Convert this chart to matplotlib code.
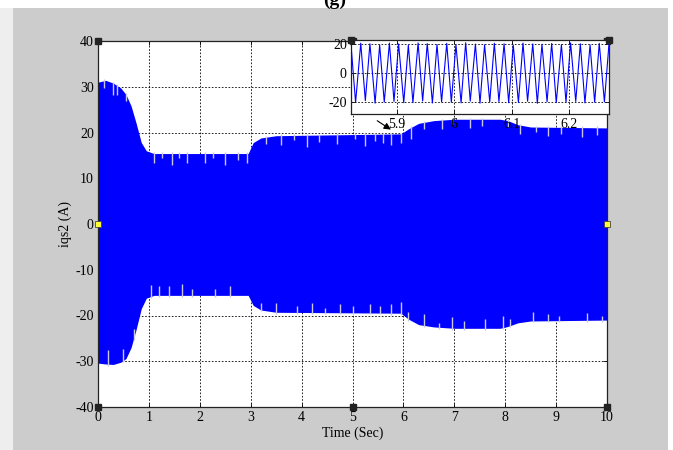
import matplotlib
matplotlib.use('Agg')
import matplotlib.pyplot as plt
import numpy as np
from matplotlib.patches import Rectangle

plt.rcParams['font.family'] = ['Liberation Serif', 'DejaVu Serif']
plt.rcParams['font.size'] = 10
plt.rcParams['axes.unicode_minus'] = False

# ---------------- data ----------------
# envelope of the fast oscillating current
t_env = [0, 0.15, 0.3, 0.45, 0.55, 0.65, 0.75, 0.85, 0.95, 1.1, 2.95, 3.05, 3.2, 3.5,
         5.95, 6.1, 6.3, 6.6, 7.0, 7.9, 8.05, 8.25, 8.5, 10]
env_upper = [31.0, 31.4, 30.8, 29.7, 28.3, 25.8, 22.0, 17.8, 16.0, 15.4, 15.4, 17.8, 18.8, 19.3,
             19.7, 20.8, 22.0, 22.6, 22.9, 22.9, 22.6, 21.7, 21.2, 21.0]
env_lower = [-30.4, -30.6, -30.7, -30.2, -29.4, -27.0, -23.0, -18.5, -16.2, -15.6, -15.6, -17.8, -18.8, -19.3,
             -19.5, -20.8, -22.0, -22.5, -22.8, -22.8, -22.4, -21.6, -21.2, -21.0]

# light aliasing spikes at the envelope edges
spike_up_t = [0.12, 0.3, 0.38, 0.55, 1.1, 1.25, 1.45, 1.6, 1.75, 2.1, 2.25, 2.5, 2.75, 2.92,
              3.3, 3.6, 3.85, 4.1, 4.35, 4.7, 5.05, 5.25, 5.45, 5.6, 5.75, 5.95, 6.15, 6.4,
              6.75, 6.95, 7.3, 7.55, 8.05, 8.3, 8.6, 8.85, 9.1, 9.5, 9.8]
spike_up_len = [1.5, 2.5, 2.0, 1.5, 2.0, 1.0, 2.5, 1.0, 2.0, 2.0, 1.0, 2.5, 1.5, 2.0,
                1.5, 2.0, 1.0, 2.5, 1.5, 2.0, 1.0, 2.5, 1.5, 2.0, 2.5, 2.0, 2.5, 1.5,
                2.0, 1.0, 2.0, 1.5, 1.5, 2.0, 1.0, 2.0, 1.5, 2.0, 1.5]
spike_lo_t = [0.2, 0.5, 0.7, 1.05, 1.2, 1.4, 1.65, 1.85, 2.3, 2.6, 3.2, 3.5, 3.9, 4.2, 4.45,
              4.75, 5.0, 5.35, 5.55, 5.75, 5.95, 6.1, 6.4, 6.7, 6.95, 7.2, 7.6, 7.95, 8.1,
              8.55, 8.85, 9.05, 9.6, 9.9]
spike_lo_len = [3.0, 2.5, 2.0, 2.5, 2.0, 2.0, 2.5, 1.5, 1.5, 2.0, 1.5, 2.0, 1.5, 2.0, 1.0,
                2.0, 1.5, 2.0, 1.5, 2.0, 2.5, 1.5, 2.5, 1.0, 2.5, 1.5, 2.0, 2.5, 1.5,
                2.0, 1.5, 1.0, 1.5, 1.0]

x_ticks = list(range(0, 11))
y_ticks = list(range(-40, 41, 10))

# zoomed inset (extreme points of the 60 Hz waveform)
inset_t = [5.820, 5.828, 5.837, 5.845, 5.853, 5.862, 5.870, 5.878, 5.887, 5.895,
           5.903, 5.912, 5.920, 5.928, 5.937, 5.945, 5.953, 5.962, 5.970, 5.978,
           5.987, 5.995, 6.003, 6.012, 6.020, 6.028, 6.037, 6.045, 6.053, 6.062,
           6.070, 6.078, 6.087, 6.095, 6.103, 6.112, 6.120, 6.128, 6.137, 6.145,
           6.153, 6.162, 6.170, 6.178, 6.187, 6.195, 6.203, 6.212, 6.220, 6.228,
           6.237, 6.245, 6.253, 6.262, 6.270]
inset_v = [19.5, -20.3, 20.6, -19.1, 20.2, -20.8, 19.4, -20.1, 20.7, -19.6,
           20.1, -20.5, 19.2, -20.4, 20.8, -19.3, 20.3, -20.7, 19.7, -19.9,
           20.5, -20.2, 19.6, -20.6, 20.9, -19.4, 20.0, -20.8, 19.5, -20.0,
           20.6, -19.7, 20.2, -20.5, 19.3, -20.3, 20.7, -19.5, 20.1, -20.9,
           19.8, -19.8, 20.4, -20.4, 19.6, -20.1, 20.8, -19.6, 20.2, -20.6,
           19.4, -20.2, 20.5, -19.9, 20.3]
inset_xticks = [5.9, 6.0, 6.1, 6.2]
inset_xticklabels = ['5.9', '6', '6.1', '6.2']
inset_yticks = [-20, 0, 20]

# ---------------- figure ----------------
W, H = 673, 450
fig = plt.figure(figsize=(W / 100, H / 100), dpi=100)
fig.patch.set_facecolor('white')
fig.patches.append(Rectangle((0, 0), 13 / W, 442 / H, transform=fig.transFigure,
                             facecolor='#eeeeee', edgecolor='none', zorder=-10))
fig.patches.append(Rectangle((13 / W, 0), 655 / W, 442 / H, transform=fig.transFigure,
                             facecolor='#cccccc', edgecolor='none', zorder=-10))

ax = fig.add_axes([98 / W, 43 / H, 509 / W, 366 / H])
ax.set_facecolor('white')
ax.fill_between(t_env, env_upper, env_lower, color='#0000ff', lw=0, zorder=2)

up_base = np.interp(spike_up_t, t_env, env_upper)
ax.vlines(spike_up_t, up_base - np.array(spike_up_len), up_base + 0.3,
          color='#c8c8e6', lw=1.0, zorder=3)
lo_base = np.interp(spike_lo_t, t_env, env_lower)
ax.vlines(spike_lo_t, lo_base - 0.3, lo_base + np.array(spike_lo_len),
          color='#c8c8e6', lw=1.0, zorder=3)

ax.set_xlim(0, 10)
ax.set_ylim(-40, 40)
ax.set_xticks(x_ticks)
ax.set_yticks(y_ticks)
ax.grid(True, linestyle=(0, (2, 2)), color='black', lw=0.6)
ax.set_axisbelow(True)
ax.tick_params(direction='in', length=3, width=0.6, pad=3, top=True, right=True, labelsize=10)
for s in ax.spines.values():
    s.set_linewidth(0.9)
    s.set_color('#222222')

ax.set_ylabel('iqs2 (A)', va='center')
ax.yaxis.set_label_coords(-33 / 509, 0.5)
ax.set_xlabel('Time (Sec)', va='center')
ax.xaxis.set_label_coords(0.5, -26 / 366)

ax.annotate('', xy=(5.80, 20.3), xytext=(5.44, 22.9),
            arrowprops=dict(arrowstyle='-|>', color='black', lw=0.8, mutation_scale=10),
            zorder=6)

# selection handles
ax.plot([0, 10, 0, 10, 5, 5], [40, 40, -40, -40, -40, 40], 's', ms=4,
        color='#222222', clip_on=False, zorder=10)
ax.plot([0, 10], [0, 0], 's', ms=4, mfc='#ffff33', mec='#444444', mew=0.6,
        clip_on=False, zorder=10)

# inset
axin = fig.add_axes([351 / W, 336 / H, 258 / W, 74 / H])
axin.set_facecolor('white')
axin.plot(inset_t, inset_v, color='#0000ff', lw=0.8, zorder=3)
axin.set_xlim(5.82, 6.27)
axin.set_ylim(-28.3, 22.8)
axin.set_xticks(inset_xticks)
axin.set_xticklabels(inset_xticklabels)
axin.set_yticks(inset_yticks)
axin.grid(True, linestyle=(0, (2, 2)), color='black', lw=0.6)
axin.set_axisbelow(True)
axin.tick_params(direction='in', length=3, width=0.6, pad=3, top=True, right=True, labelsize=10)
for s in axin.spines.values():
    s.set_linewidth(0.9)
    s.set_color('#222222')
axin.plot([5.82, 6.27], [22.8, 22.8], 's', ms=4, color='#222222', clip_on=False, zorder=10)

fig.text(335 / W, 441 / H, '(g)', ha='center', va='bottom', fontsize=14, fontweight='bold')

fig.savefig('out.png', dpi=100)
